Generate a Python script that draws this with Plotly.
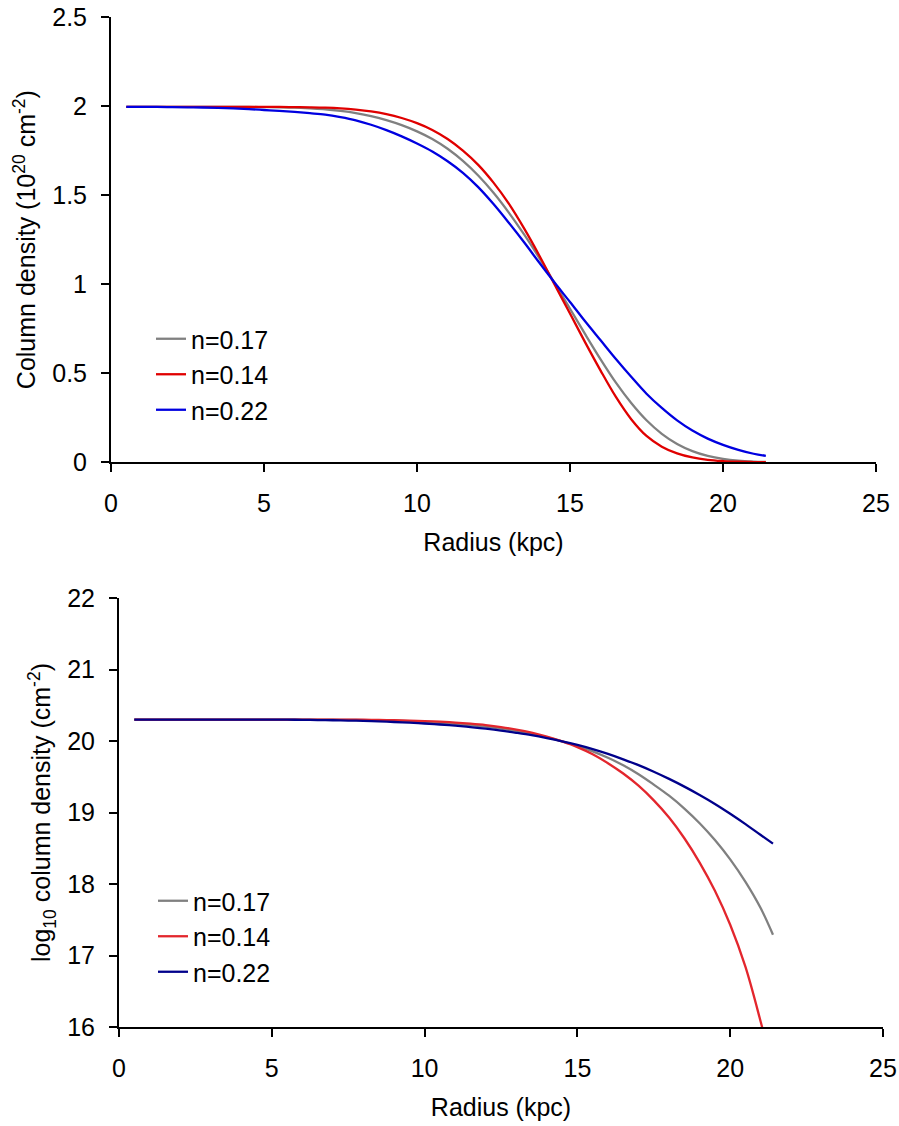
import plotly.graph_objects as go

# ---------------- data ----------------
radius = [0.5, 1, 1.5, 2, 2.5, 3, 3.5, 4, 4.5, 5,
          5.5, 6, 6.5, 7, 7.5, 8, 8.5, 9, 9.5, 10,
          10.5, 11, 11.5, 12, 12.5, 13, 13.5, 14, 14.5, 15,
          15.5, 16, 16.5, 17, 17.5, 18, 18.5, 19, 19.5, 20,
          20.5, 21, 21.4]

series_names = ["n=0.17", "n=0.14", "n=0.22"]

# Top panel: column density (1e20 cm^-2)
col_n017 = [1.995, 1.995, 1.995, 1.995, 1.995, 1.995, 1.995, 1.995, 1.995, 1.994,
            1.993, 1.991, 1.987, 1.982, 1.973, 1.961, 1.944, 1.921, 1.893, 1.858,
            1.815, 1.76, 1.692, 1.61, 1.513, 1.402, 1.279, 1.146, 1.005, 0.862,
            0.718, 0.578, 0.447, 0.333, 0.236, 0.16, 0.103, 0.063, 0.036, 0.019,
            0.009, 0.004, 0.002]
col_n014 = [1.995, 1.995, 1.995, 1.995, 1.995, 1.995, 1.995, 1.995, 1.995, 1.995,
            1.995, 1.994, 1.993, 1.991, 1.987, 1.98, 1.97, 1.955, 1.933, 1.904,
            1.866, 1.815, 1.75, 1.67, 1.57, 1.452, 1.313, 1.16, 0.997, 0.835,
            0.672, 0.515, 0.367, 0.242, 0.148, 0.088, 0.05, 0.027, 0.014, 0.007,
            0.003, 0.0015, 0.001]
col_n022 = [1.995, 1.995, 1.995, 1.994, 1.993, 1.992, 1.99, 1.987, 1.983, 1.978,
            1.973, 1.967, 1.96, 1.952, 1.938, 1.92, 1.895, 1.865, 1.83, 1.79,
            1.745, 1.69, 1.625, 1.545, 1.45, 1.345, 1.235, 1.12, 1.008, 0.90,
            0.79, 0.685, 0.58, 0.48, 0.385, 0.305, 0.235, 0.178, 0.133, 0.098,
            0.07, 0.048, 0.036]

# Bottom panel: log10 column density (cm^-2)
log_n017 = [20.30, 20.30, 20.30, 20.30, 20.30, 20.30, 20.30, 20.30, 20.30, 20.30,
            20.30, 20.299, 20.298, 20.297, 20.295, 20.292, 20.288, 20.283, 20.276, 20.267,
            20.255, 20.241, 20.223, 20.20, 20.173, 20.14, 20.10, 20.052, 19.995, 19.93,
            19.855, 19.765, 19.66, 19.535, 19.39, 19.235, 19.055, 18.85, 18.615, 18.345,
            18.03, 17.66, 17.29]
log_n014 = [20.30, 20.30, 20.30, 20.30, 20.30, 20.30, 20.30, 20.30, 20.30, 20.30,
            20.30, 20.30, 20.30, 20.299, 20.298, 20.297, 20.295, 20.291, 20.286, 20.279,
            20.27, 20.258, 20.242, 20.222, 20.195, 20.16, 20.117, 20.062, 19.994, 19.915,
            19.815, 19.69, 19.545, 19.375, 19.17, 18.93, 18.64, 18.30, 17.905, 17.43,
            16.84, 16.07, 15.40]
log_n022 = [20.30, 20.30, 20.30, 20.30, 20.30, 20.30, 20.30, 20.30, 20.299, 20.299,
            20.298, 20.296, 20.293, 20.29, 20.286, 20.281, 20.274, 20.266, 20.256, 20.245,
            20.231, 20.214, 20.195, 20.172, 20.146, 20.115, 20.081, 20.041, 19.996, 19.945,
            19.887, 19.82, 19.744, 19.662, 19.57, 19.47, 19.362, 19.245, 19.12, 18.983,
            18.838, 18.685, 18.565]

x_ticks = [0, 5, 10, 15, 20, 25]
top_y_ticks = [0, 0.5, 1, 1.5, 2, 2.5]
bot_y_ticks = [16, 17, 18, 19, 20, 21, 22]

top_colors = ["#808080", "#E00000", "#0000E0"]
bot_colors = ["#808080", "#E3262D", "#00008B"]

# ---------------- figure ----------------
W, H = 899, 1126
FONT = "Liberation Sans, Arial, sans-serif"
FS = 25

fig = go.Figure()

for name, vals, col in zip(series_names, [col_n017, col_n014, col_n022], top_colors):
    fig.add_trace(go.Scatter(x=radius, y=vals, name=name, mode="lines",
                             line=dict(color=col, width=2.3, shape="spline", smoothing=1.0),
                             xaxis="x", yaxis="y", legend="legend"))

for name, vals, col in zip(series_names, [log_n017, log_n014, log_n022], bot_colors):
    fig.add_trace(go.Scatter(x=radius, y=vals, name=name, mode="lines",
                             line=dict(color=col, width=2.3, shape="spline", smoothing=1.0),
                             xaxis="x2", yaxis="y2", legend="legend2"))

axis_common = dict(showgrid=False, zeroline=False, showline=True, linecolor="black",
                   linewidth=2, ticks="outside", ticklen=8, tickwidth=2, tickcolor="black",
                   tickfont=dict(family=FONT, size=FS, color="black"), automargin=False)

fig.update_layout(
    width=W, height=H,
    margin=dict(l=0, r=0, t=0, b=0),
    paper_bgcolor="white", plot_bgcolor="white",
    font=dict(family=FONT, size=FS, color="black"),
    xaxis=dict(domain=[111 / W, 876 / W], range=[0, 25], tickvals=x_ticks,
               anchor="y", ticklabelstandoff=10,
               title=dict(text="Radius (kpc)", font=dict(family=FONT, size=FS), standoff=17),
               **axis_common),
    yaxis=dict(domain=[1 - 462.3 / H, 1 - 17 / H], range=[0, 2.5], tickvals=top_y_ticks,
               anchor="x", ticklabelstandoff=9,
               title=dict(text="Column density (10<sup>20</sup> cm<sup>-2</sup>)",
                          font=dict(family=FONT, size=FS), standoff=9),
               **axis_common),
    xaxis2=dict(domain=[119 / W, 883 / W], range=[0, 25], tickvals=x_ticks,
                anchor="y2", ticklabelstandoff=10,
                title=dict(text="Radius (kpc)", font=dict(family=FONT, size=FS), standoff=17),
                **axis_common),
    yaxis2=dict(domain=[1 - 1027 / H, 1 - 598 / H], range=[16, 22], tickvals=bot_y_ticks,
                anchor="x2", ticklabelstandoff=9,
                title=dict(text="log<sub>10</sub> column density (cm<sup>-2</sup>)",
                           font=dict(family=FONT, size=FS), standoff=9),
                **axis_common),
    legend=dict(x=151 / W, y=1 - 316 / H, xanchor="left", yanchor="top",
                bgcolor="rgba(0,0,0,0)", borderwidth=0, itemwidth=30,
                font=dict(family=FONT, size=FS, color="black"), tracegroupgap=0),
    legend2=dict(x=153 / W, y=1 - 878 / H, xanchor="left", yanchor="top",
                 bgcolor="rgba(0,0,0,0)", borderwidth=0, itemwidth=30,
                 font=dict(family=FONT, size=FS, color="black"), tracegroupgap=0),
    showlegend=True,
)

fig.write_html("out.html")
